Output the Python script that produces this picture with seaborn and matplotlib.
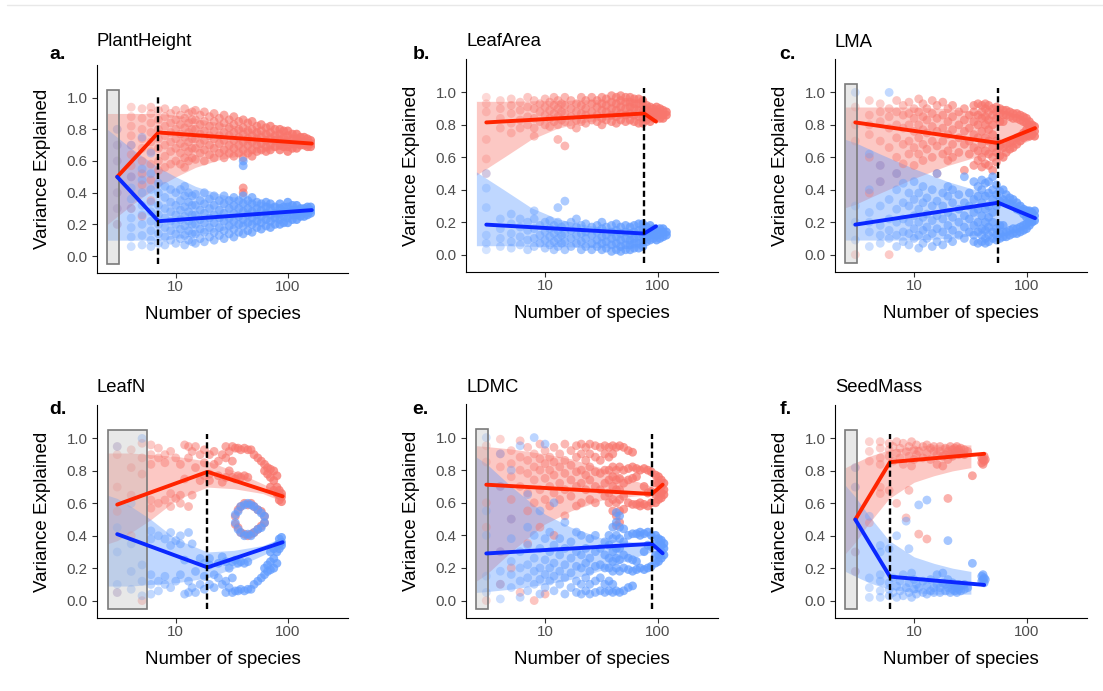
import numpy as np
import pandas as pd
import matplotlib
matplotlib.use("Agg")
import matplotlib.pyplot as plt
import seaborn as sns
from matplotlib.patches import Rectangle
from matplotlib.lines import Line2D
from matplotlib.ticker import NullLocator, FixedLocator, FixedFormatter

sns.set_theme(style="ticks")
plt.rcParams['font.family'] = ['Liberation Sans', 'DejaVu Sans']
plt.rcParams['text.color'] = 'black'
plt.rcParams['axes.labelcolor'] = 'black'

# ---------------- data ----------------
TRAITS = ["PlantHeight", "LeafArea", "LMA", "LeafN", "LDMC", "SeedMass"]
LETTERS = ["a.", "b.", "c.", "d.", "e.", "f."]
BREAKS = [7, 76, 56, 19.2, 89, 6.1]
RECTS = [(2.45, 3.1), None, (2.45, 3.1), (2.5, 5.5), (2.45, 3.1), (2.45, 3.1)]
Y_TICKS = [0.0, 0.2, 0.4, 0.6, 0.8, 1.0]
Y_TICK_LABELS = ["0.0", "0.2", "0.4", "0.6", "0.8", "1.0"]
X_TICKS = [10, 100]
X_TICK_LABELS = ["10", "100"]

# segmented fitted lines
a_line_x = [3, 7, 164];   a_line_red = [0.5, 0.78, 0.71];   a_line_blue = [0.5, 0.22, 0.29]
b_line_x = [3, 76, 97];   b_line_red = [0.815, 0.87, 0.82]; b_line_blue = [0.185, 0.13, 0.175]
c_line_x = [3, 56, 119];  c_line_red = [0.815, 0.688, 0.78]; c_line_blue = [0.185, 0.32, 0.225]
d_line_x = [3, 19.2, 90]; d_line_red = [0.592, 0.794, 0.643]; d_line_blue = [0.41, 0.205, 0.36]
e_line_x = [3, 89, 111];  e_line_red = [0.711, 0.654, 0.711]; e_line_blue = [0.289, 0.348, 0.29]
f_line_x = [3, 6.1, 42];  f_line_red = [0.5, 0.854, 0.905]; f_line_blue = [0.5, 0.148, 0.097]

# ribbons
a_rib_x = [2.45, 3, 4, 5, 7, 10, 15, 25, 50, 100, 164]
a_rib_red_lo = [0.2, 0.25, 0.32, 0.37, 0.44, 0.5, 0.56, 0.61, 0.65, 0.68, 0.69]
a_rib_red_hi = [0.9, 0.9, 0.9, 0.9, 0.9, 0.89, 0.87, 0.84, 0.8, 0.76, 0.74]
a_rib_blue_lo = [0.1, 0.1, 0.1, 0.1, 0.1, 0.11, 0.13, 0.16, 0.2, 0.24, 0.26]
a_rib_blue_hi = [0.8, 0.75, 0.68, 0.63, 0.56, 0.5, 0.44, 0.39, 0.35, 0.32, 0.31]

b_rib_x = [2.45, 3, 4.3, 7.5, 13, 24, 47, 76]
b_rib_red_lo = [0.49, 0.53, 0.6, 0.71, 0.78, 0.82, 0.84, 0.85]
b_rib_red_hi = [0.945, 0.945, 0.945, 0.948, 0.95, 0.955, 0.96, 0.96]
b_rib_blue_lo = [0.055, 0.055, 0.055, 0.052, 0.05, 0.045, 0.04, 0.04]
b_rib_blue_hi = [0.51, 0.47, 0.4, 0.29, 0.22, 0.18, 0.16, 0.15]

c_rib_x = [2.45, 3, 5, 10, 20, 35, 56, 119]
c_rib_red_lo = [0.29, 0.31, 0.38, 0.47, 0.55, 0.6, 0.62, 0.72]
c_rib_red_hi = [0.91, 0.91, 0.91, 0.91, 0.9, 0.88, 0.84, 0.8]
c_rib_blue_lo = [0.09, 0.09, 0.09, 0.09, 0.1, 0.12, 0.16, 0.2]
c_rib_blue_hi = [0.71, 0.69, 0.62, 0.53, 0.45, 0.4, 0.38, 0.28]

d_rib_x = [2.45, 3, 4, 6, 10, 19.2, 33, 60, 90]
d_rib_red_lo = [0.35, 0.37, 0.42, 0.5, 0.62, 0.7, 0.69, 0.66, 0.61]
d_rib_red_hi = [0.91, 0.91, 0.91, 0.9, 0.89, 0.86, 0.8, 0.72, 0.66]
d_rib_blue_lo = [0.09, 0.09, 0.09, 0.1, 0.11, 0.14, 0.2, 0.28, 0.34]
d_rib_blue_hi = [0.65, 0.63, 0.58, 0.5, 0.38, 0.3, 0.31, 0.34, 0.39]

e_rib_x = [2.45, 3, 5, 10, 17, 33, 60, 89]
e_rib_red_lo = [0.12, 0.16, 0.3, 0.47, 0.55, 0.62, 0.64, 0.65]
e_rib_red_hi = [0.95, 0.945, 0.93, 0.9, 0.87, 0.81, 0.74, 0.7]
e_rib_blue_lo = [0.05, 0.055, 0.07, 0.1, 0.13, 0.19, 0.26, 0.3]
e_rib_blue_hi = [0.88, 0.84, 0.7, 0.53, 0.45, 0.38, 0.36, 0.35]

f_rib_x = [2.45, 3, 4, 6, 10, 15, 22, 32]
f_rib_red_lo = [0.29, 0.36, 0.48, 0.63, 0.73, 0.77, 0.8, 0.82]
f_rib_red_hi = [0.82, 0.85, 0.89, 0.93, 0.95, 0.96, 0.96, 0.96]
f_rib_blue_lo = [0.18, 0.15, 0.11, 0.07, 0.05, 0.04, 0.04, 0.04]
f_rib_blue_hi = [0.71, 0.64, 0.52, 0.37, 0.27, 0.23, 0.2, 0.18]

# scatter points: {number of species: [variance explained, ...]}
a_red = {
    3: [0.8, 0.7, 0.6, 0.4, 0.3, 0.2],
    4: [0.94, 0.88, 0.82, 0.76, 0.7, 0.64, 0.57, 0.5, 0.3],
    5: [0.93, 0.87, 0.8, 0.74, 0.68, 0.6, 0.52, 0.45, 0.25],
    6: [0.94, 0.9, 0.84, 0.78, 0.72, 0.66, 0.58, 0.48, 0.35],
    7: [0.92, 0.86, 0.8, 0.74, 0.68, 0.6, 0.54],
    8: [0.93, 0.88, 0.82, 0.76, 0.7, 0.63, 0.56],
    9: [0.9, 0.84, 0.78, 0.72, 0.66, 0.58],
    10: [0.92, 0.86, 0.8, 0.74, 0.68, 0.6],
    11: [0.89, 0.83, 0.77, 0.71, 0.65, 0.58],
    12: [0.93, 0.87, 0.81, 0.75, 0.69, 0.62, 0.56],
    13: [0.9, 0.84, 0.78, 0.72, 0.66, 0.6],
    14: [0.91, 0.86, 0.8, 0.74, 0.68, 0.62],
    15: [0.92, 0.86, 0.8, 0.74, 0.68, 0.61],
    16.5: [0.89, 0.83, 0.77, 0.71, 0.65],
    18: [0.91, 0.85, 0.79, 0.73, 0.67, 0.6],
    20: [0.88, 0.82, 0.76, 0.7, 0.64],
    22: [0.9, 0.85, 0.79, 0.74, 0.68, 0.62],
    24.5: [0.87, 0.82, 0.76, 0.71, 0.65],
    27: [0.89, 0.84, 0.78, 0.73, 0.67, 0.62],
    30: [0.86, 0.81, 0.76, 0.7, 0.65],
    33: [0.88, 0.83, 0.78, 0.73, 0.68, 0.63],
    36.5: [0.85, 0.8, 0.75, 0.7, 0.65],
    40: [0.86, 0.81, 0.77, 0.72, 0.67, 0.62, 0.43, 0.4],
    44: [0.84, 0.79, 0.74, 0.7, 0.65],
    48: [0.85, 0.8, 0.76, 0.72, 0.67, 0.63],
    53: [0.82, 0.78, 0.74, 0.7, 0.66],
    58: [0.83, 0.79, 0.75, 0.71, 0.67],
    64: [0.81, 0.77, 0.73, 0.69, 0.66],
    70: [0.82, 0.78, 0.74, 0.7, 0.67],
    77: [0.8, 0.76, 0.73, 0.69],
    85: [0.8, 0.77, 0.73, 0.7, 0.67],
    92: [0.79, 0.75, 0.72, 0.69],
    100: [0.79, 0.76, 0.72, 0.69, 0.66],
    110: [0.77, 0.74, 0.71, 0.68],
    120: [0.77, 0.74, 0.71, 0.68],
    130: [0.75, 0.72, 0.7],
    140: [0.75, 0.72, 0.7],
    150: [0.74, 0.71, 0.69],
    160: [0.73, 0.71, 0.69],
}
a_blue = {
    3: [0.2, 0.3, 0.4, 0.6, 0.7, 0.8],
    4: [0.06, 0.12, 0.18, 0.24, 0.3, 0.36, 0.43, 0.5, 0.7],
    5: [0.07, 0.13, 0.2, 0.26, 0.32, 0.4, 0.48, 0.55, 0.75],
    6: [0.06, 0.1, 0.16, 0.22, 0.28, 0.34, 0.42, 0.52, 0.65],
    7: [0.08, 0.14, 0.2, 0.26, 0.32, 0.4, 0.46],
    8: [0.07, 0.12, 0.18, 0.24, 0.3, 0.37, 0.44],
    9: [0.1, 0.16, 0.22, 0.28, 0.34, 0.42],
    10: [0.08, 0.14, 0.2, 0.26, 0.32, 0.4],
    11: [0.11, 0.17, 0.23, 0.29, 0.35, 0.42],
    12: [0.07, 0.13, 0.19, 0.25, 0.31, 0.38, 0.44],
    13: [0.1, 0.16, 0.22, 0.28, 0.34, 0.4],
    14: [0.09, 0.14, 0.2, 0.26, 0.32, 0.38],
    15: [0.08, 0.14, 0.2, 0.26, 0.32, 0.39],
    16.5: [0.11, 0.17, 0.23, 0.29, 0.35],
    18: [0.09, 0.15, 0.21, 0.27, 0.33, 0.4],
    20: [0.12, 0.18, 0.24, 0.3, 0.36],
    22: [0.1, 0.15, 0.21, 0.26, 0.32, 0.38],
    24.5: [0.13, 0.18, 0.24, 0.29, 0.35],
    27: [0.11, 0.16, 0.22, 0.27, 0.33, 0.38],
    30: [0.14, 0.19, 0.24, 0.3, 0.35],
    33: [0.12, 0.17, 0.22, 0.27, 0.32, 0.37],
    36.5: [0.15, 0.2, 0.25, 0.3, 0.35],
    40: [0.14, 0.19, 0.23, 0.28, 0.33, 0.38, 0.57, 0.6],
    44: [0.16, 0.21, 0.26, 0.3, 0.35],
    48: [0.15, 0.2, 0.24, 0.28, 0.33, 0.37],
    53: [0.18, 0.22, 0.26, 0.3, 0.34],
    58: [0.17, 0.21, 0.25, 0.29, 0.33],
    64: [0.19, 0.23, 0.27, 0.31, 0.34],
    70: [0.18, 0.22, 0.26, 0.3, 0.33],
    77: [0.2, 0.24, 0.27, 0.31],
    85: [0.2, 0.23, 0.27, 0.3, 0.33],
    92: [0.21, 0.25, 0.28, 0.31],
    100: [0.21, 0.24, 0.28, 0.31, 0.34],
    110: [0.23, 0.26, 0.29, 0.32],
    120: [0.23, 0.26, 0.29, 0.32],
    130: [0.25, 0.28, 0.3],
    140: [0.25, 0.28, 0.3],
    150: [0.26, 0.29, 0.31],
    160: [0.27, 0.29, 0.31],
}

b_red = {
    3: [0.97, 0.93, 0.88, 0.71, 0.59, 0.5],
    4: [0.95, 0.9, 0.84, 0.78],
    5: [0.96, 0.92, 0.87, 0.81, 0.75],
    6: [0.94, 0.89, 0.83, 0.78],
    7: [0.97, 0.91, 0.85, 0.8],
    8: [0.95, 0.9, 0.84, 0.78, 0.73],
    9: [0.93, 0.88, 0.82],
    10: [0.96, 0.91, 0.86, 0.8],
    11: [0.94, 0.89, 0.84, 0.79],
    12: [0.97, 0.92, 0.87, 0.82],
    13: [0.95, 0.9, 0.85, 0.8, 0.71],
    14: [0.93, 0.88, 0.83],
    15: [0.97, 0.92, 0.87, 0.82, 0.67],
    17: [0.95, 0.9, 0.85, 0.8],
    19: [0.93, 0.88, 0.83, 0.78],
    21: [0.97, 0.92, 0.87, 0.82],
    23: [0.95, 0.9, 0.86, 0.81],
    26: [0.97, 0.93, 0.88, 0.83],
    29: [0.95, 0.91, 0.86, 0.82],
    32: [0.97, 0.93, 0.89, 0.84, 0.8],
    35: [0.96, 0.92, 0.88, 0.83],
    39: [0.98, 0.94, 0.9, 0.86, 0.82],
    43: [0.97, 0.93, 0.89, 0.85, 0.81],
    47: [0.98, 0.95, 0.91, 0.87, 0.83],
    52: [0.97, 0.94, 0.9, 0.86, 0.82],
    57: [0.97, 0.94, 0.91, 0.87, 0.83],
    62: [0.96, 0.93, 0.9, 0.86, 0.82],
    68: [0.96, 0.93, 0.89, 0.85, 0.81],
    74: [0.95, 0.92, 0.88, 0.84, 0.81],
    80: [0.92, 0.89, 0.86, 0.83],
    86: [0.91, 0.88, 0.85, 0.82],
    92: [0.9, 0.87, 0.84],
    98: [0.91, 0.88, 0.85],
    105: [0.9, 0.87, 0.84],
    112: [0.89, 0.86, 0.84],
    120: [0.88, 0.86],
}
b_blue = {
    3: [0.03, 0.07, 0.12, 0.29, 0.41, 0.5],
    4: [0.05, 0.1, 0.16, 0.22],
    5: [0.04, 0.08, 0.13, 0.19, 0.25],
    6: [0.06, 0.11, 0.17, 0.22],
    7: [0.03, 0.09, 0.15, 0.2],
    8: [0.05, 0.1, 0.16, 0.22, 0.27],
    9: [0.07, 0.12, 0.18],
    10: [0.04, 0.09, 0.14, 0.2],
    11: [0.06, 0.11, 0.16, 0.21],
    12: [0.03, 0.08, 0.13, 0.18],
    13: [0.05, 0.1, 0.15, 0.2, 0.29],
    14: [0.07, 0.12, 0.17],
    15: [0.03, 0.08, 0.13, 0.18, 0.33],
    17: [0.05, 0.1, 0.15, 0.2],
    19: [0.07, 0.12, 0.17, 0.22],
    21: [0.03, 0.08, 0.13, 0.18],
    23: [0.05, 0.1, 0.14, 0.19],
    26: [0.03, 0.07, 0.12, 0.17],
    29: [0.05, 0.09, 0.14, 0.18],
    32: [0.03, 0.07, 0.11, 0.16, 0.2],
    35: [0.04, 0.08, 0.12, 0.17],
    39: [0.02, 0.06, 0.1, 0.14, 0.18],
    43: [0.03, 0.07, 0.11, 0.15, 0.19],
    47: [0.02, 0.05, 0.09, 0.13, 0.17],
    52: [0.03, 0.06, 0.1, 0.14, 0.18],
    57: [0.03, 0.06, 0.09, 0.13, 0.17],
    62: [0.04, 0.07, 0.1, 0.14, 0.18],
    68: [0.04, 0.07, 0.11, 0.15, 0.19],
    74: [0.05, 0.08, 0.12, 0.16, 0.19],
    80: [0.08, 0.11, 0.14, 0.17],
    86: [0.09, 0.12, 0.15, 0.18],
    92: [0.1, 0.13, 0.16],
    98: [0.09, 0.12, 0.15],
    105: [0.1, 0.13, 0.16],
    112: [0.11, 0.14, 0.16],
    120: [0.12, 0.14],
}

c_red = {
    3: [0.91, 0.8, 0.7, 0.0],
    4: [0.95, 0.86, 0.8, 0.74, 0.6, 0.38],
    5: [0.93, 0.88, 0.82, 0.7, 0.55, 0.45],
    6: [0.9, 0.85, 0.78, 0.66, 0.0],
    7: [0.95, 0.88, 0.8, 0.72, 0.6, 0.5],
    8: [0.92, 0.86, 0.78, 0.68, 0.56],
    9: [0.94, 0.87, 0.8, 0.7, 0.62],
    10: [0.9, 0.84, 0.76, 0.66, 0.55],
    11: [0.96, 0.88, 0.8, 0.72, 0.62],
    12: [0.93, 0.85, 0.77, 0.68, 0.58],
    13: [0.9, 0.83, 0.75, 0.65],
    14.5: [0.95, 0.87, 0.79, 0.7, 0.6],
    16: [0.92, 0.84, 0.76, 0.67, 0.5],
    18: [0.94, 0.86, 0.78, 0.7, 0.62],
    20: [0.9, 0.82, 0.74, 0.64, 0.58],
    22: [0.92, 0.85, 0.77, 0.68, 0.6],
    25: [0.88, 0.8, 0.72, 0.63],
    28: [0.9, 0.83, 0.76, 0.68, 0.52],
    31: [0.86, 0.78, 0.7, 0.62],
    34: [0.92, 0.88, 0.82, 0.74, 0.66, 0.55],
    37: [0.93, 0.86, 0.8, 0.72, 0.64, 0.58],
    40: [0.92, 0.88, 0.84, 0.76, 0.68, 0.6, 0.54],
    43: [0.93, 0.9, 0.85, 0.8, 0.72, 0.64, 0.56],
    46: [0.92, 0.88, 0.83, 0.77, 0.7, 0.62, 0.55],
    50: [0.9, 0.86, 0.8, 0.74, 0.66, 0.6, 0.52],
    54: [0.91, 0.88, 0.84, 0.7, 0.63, 0.57],
    58: [0.9, 0.87, 0.82, 0.67, 0.61],
    62: [0.89, 0.86, 0.82, 0.66, 0.6],
    66: [0.89, 0.86, 0.68, 0.63],
    71: [0.88, 0.85, 0.69, 0.65],
    76: [0.87, 0.84, 0.7, 0.66],
    82: [0.87, 0.84, 0.72, 0.68],
    88: [0.86, 0.83, 0.73, 0.7],
    94: [0.85, 0.82, 0.75, 0.72],
    100: [0.84, 0.81, 0.77, 0.73],
    106: [0.82, 0.79, 0.76, 0.73],
    112: [0.8, 0.77, 0.74],
    118: [0.79, 0.76, 0.73],
}
c_blue = {
    3: [0.09, 0.2, 0.3, 1.0],
    4: [0.05, 0.14, 0.2, 0.26, 0.4, 0.62],
    5: [0.07, 0.12, 0.18, 0.3, 0.45, 0.55],
    6: [0.1, 0.15, 0.22, 0.34, 1.0],
    7: [0.05, 0.12, 0.2, 0.28, 0.4, 0.5],
    8: [0.08, 0.14, 0.22, 0.32, 0.44],
    9: [0.06, 0.13, 0.2, 0.3, 0.38],
    10: [0.1, 0.16, 0.24, 0.34, 0.45],
    11: [0.04, 0.12, 0.2, 0.28, 0.38],
    12: [0.07, 0.15, 0.23, 0.32, 0.42],
    13: [0.1, 0.17, 0.25, 0.35],
    14.5: [0.05, 0.13, 0.21, 0.3, 0.4],
    16: [0.08, 0.16, 0.24, 0.33, 0.5],
    18: [0.06, 0.14, 0.22, 0.3, 0.38],
    20: [0.1, 0.18, 0.26, 0.36, 0.42],
    22: [0.08, 0.15, 0.23, 0.32, 0.4],
    25: [0.12, 0.2, 0.28, 0.37],
    28: [0.1, 0.17, 0.24, 0.32, 0.48],
    31: [0.14, 0.22, 0.3, 0.38],
    34: [0.08, 0.12, 0.18, 0.26, 0.34, 0.45],
    37: [0.07, 0.14, 0.2, 0.28, 0.36, 0.42],
    40: [0.08, 0.12, 0.16, 0.24, 0.32, 0.4, 0.46],
    43: [0.07, 0.1, 0.15, 0.2, 0.28, 0.36, 0.44],
    46: [0.08, 0.12, 0.17, 0.23, 0.3, 0.38, 0.45],
    50: [0.1, 0.14, 0.2, 0.26, 0.34, 0.4, 0.48],
    54: [0.09, 0.12, 0.16, 0.3, 0.37, 0.43],
    58: [0.1, 0.13, 0.18, 0.33, 0.39],
    62: [0.11, 0.14, 0.18, 0.34, 0.4],
    66: [0.11, 0.14, 0.32, 0.37],
    71: [0.12, 0.15, 0.31, 0.35],
    76: [0.13, 0.16, 0.3, 0.34],
    82: [0.13, 0.16, 0.28, 0.32],
    88: [0.14, 0.17, 0.27, 0.3],
    94: [0.15, 0.18, 0.25, 0.28],
    100: [0.16, 0.19, 0.23, 0.27],
    106: [0.18, 0.21, 0.24, 0.27],
    112: [0.2, 0.23, 0.26],
    118: [0.21, 0.24, 0.27],
}

d_red = {
    3: [0.95, 0.9, 0.7, 0.55, 0.05],
    4: [0.93, 0.82, 0.65, 0.4],
    5: [0.97, 0.88, 0.78, 0.0],
    6: [0.96, 0.9, 0.84, 0.62, 0.57],
    7: [0.94, 0.88, 0.6],
    8: [0.9, 0.85, 0.62],
    9: [0.92, 0.66, 0.58],
    10: [0.88, 0.63],
    11: [0.84, 0.65, 0.6],
    12: [0.96, 0.75],
    13: [0.95, 0.88, 0.58],
    14: [0.92, 0.65],
    15: [0.95, 0.82],
    16.5: [0.9, 0.74],
    18: [0.93, 0.85, 0.77],
    20: [0.9, 0.78, 0.74],
    22: [0.92, 0.84],
    24: [0.86, 0.77],
    26: [0.9, 0.73],
    28: [0.95, 0.88, 0.76],
    30: [0.92, 0.8],
    32: [0.95, 0.86, 0.76],
    34: [0.94, 0.75, 0.52, 0.47],
    36: [0.94, 0.77, 0.56, 0.45],
    38: [0.93, 0.76, 0.58, 0.42],
    41: [0.94, 0.77, 0.6, 0.41],
    44: [0.93, 0.76, 0.59, 0.4],
    47: [0.93, 0.6, 0.41],
    50: [0.9, 0.58, 0.42],
    54: [0.88, 0.56, 0.44],
    58: [0.86, 0.55, 0.46],
    62: [0.84, 0.8, 0.52, 0.48],
    66: [0.82, 0.78],
    70: [0.81, 0.76, 0.7],
    75: [0.8, 0.74, 0.68],
    80: [0.77, 0.7, 0.66],
    84: [0.68, 0.65, 0.62],
    88: [0.66, 0.64, 0.61],
}
d_blue = {
    3: [0.05, 0.1, 0.3, 0.45, 0.95],
    4: [0.07, 0.18, 0.35, 0.6],
    5: [0.03, 0.12, 0.22, 1.0],
    6: [0.04, 0.1, 0.16, 0.38, 0.43],
    7: [0.06, 0.12, 0.4],
    8: [0.1, 0.15, 0.38],
    9: [0.08, 0.34, 0.42],
    10: [0.12, 0.37],
    11: [0.16, 0.35, 0.4],
    12: [0.04, 0.25],
    13: [0.05, 0.12, 0.42],
    14: [0.08, 0.35],
    15: [0.05, 0.18],
    16.5: [0.1, 0.26],
    18: [0.07, 0.15, 0.23],
    20: [0.1, 0.22, 0.26],
    22: [0.08, 0.16],
    24: [0.14, 0.23],
    26: [0.1, 0.27],
    28: [0.05, 0.12, 0.24],
    30: [0.08, 0.2],
    32: [0.05, 0.14, 0.24],
    34: [0.06, 0.25, 0.48, 0.53],
    36: [0.06, 0.23, 0.44, 0.55],
    38: [0.07, 0.24, 0.42, 0.58],
    41: [0.06, 0.23, 0.4, 0.59],
    44: [0.07, 0.24, 0.41, 0.6],
    47: [0.07, 0.4, 0.59],
    50: [0.1, 0.42, 0.58],
    54: [0.12, 0.44, 0.56],
    58: [0.14, 0.45, 0.54],
    62: [0.16, 0.2, 0.48, 0.52],
    66: [0.18, 0.22],
    70: [0.19, 0.24, 0.3],
    75: [0.2, 0.26, 0.32],
    80: [0.23, 0.3, 0.34],
    84: [0.32, 0.35, 0.38],
    88: [0.34, 0.36, 0.39],
}

e_red = {
    3: [0.95, 0.85, 0.6, 0.45, 0.0],
    4: [0.99, 0.9, 0.82, 0.7, 0.3, 0.1],
    5: [0.92, 0.84, 0.76, 0.62, 0.5, 0.2],
    6: [0.98, 0.88, 0.8, 0.7, 0.05],
    7: [0.94, 0.86, 0.78, 0.66, 0.55, 0.35],
    8: [0.9, 0.82, 0.74, 0.6, 0.0],
    9: [0.96, 0.87, 0.8, 0.68, 0.45],
    10: [0.92, 0.84, 0.75, 0.62, 0.04],
    11: [0.88, 0.8, 0.7, 0.58],
    12: [0.94, 0.85, 0.77, 0.66, 0.4],
    13.5: [0.9, 0.82, 0.72, 0.62],
    15: [0.96, 0.86, 0.78, 0.68, 0.52],
    17: [0.92, 0.83, 0.74, 0.64],
    19: [0.95, 0.88, 0.79, 0.7, 0.58],
    21: [0.96, 0.9, 0.8, 0.72, 0.6],
    23: [0.94, 0.86, 0.77, 0.68],
    25: [0.96, 0.9, 0.82, 0.74, 0.62],
    28: [0.95, 0.88, 0.79, 0.7, 0.6],
    31: [0.94, 0.86, 0.78, 0.68],
    34: [0.95, 0.9, 0.8, 0.72, 0.64],
    37: [0.94, 0.88, 0.8, 0.74, 0.66, 0.6],
    40: [0.95, 0.9, 0.82, 0.76, 0.7, 0.62, 0.55],
    43: [0.94, 0.8, 0.74, 0.68, 0.6, 0.52, 0.46],
    46: [0.95, 0.82, 0.75, 0.68, 0.62, 0.55, 0.48],
    50: [0.94, 0.8, 0.72, 0.64, 0.56],
    55: [0.92, 0.81, 0.74, 0.6],
    60: [0.91, 0.82, 0.75, 0.59],
    65: [0.81, 0.76, 0.59],
    70: [0.8, 0.6, 0.58],
    76: [0.81, 0.7, 0.59],
    82: [0.8, 0.66, 0.58],
    88: [0.79, 0.67, 0.6],
    96: [0.77, 0.72, 0.65, 0.6],
    102: [0.76, 0.72, 0.66, 0.62],
    108: [0.74, 0.7, 0.66, 0.63],
    114: [0.72, 0.68, 0.65],
}
e_blue = {
    3: [0.05, 0.15, 0.4, 0.55, 1.0],
    4: [0.01, 0.1, 0.18, 0.3, 0.7, 0.9],
    5: [0.08, 0.16, 0.24, 0.38, 0.5, 0.8],
    6: [0.02, 0.12, 0.2, 0.3, 0.95],
    7: [0.06, 0.14, 0.22, 0.34, 0.45, 0.65],
    8: [0.1, 0.18, 0.26, 0.4, 1.0],
    9: [0.04, 0.13, 0.2, 0.32, 0.55],
    10: [0.08, 0.16, 0.25, 0.38, 0.96],
    11: [0.12, 0.2, 0.3, 0.42],
    12: [0.06, 0.15, 0.23, 0.34, 0.6],
    13.5: [0.1, 0.18, 0.28, 0.38],
    15: [0.04, 0.14, 0.22, 0.32, 0.48],
    17: [0.08, 0.17, 0.26, 0.36],
    19: [0.05, 0.12, 0.21, 0.3, 0.42],
    21: [0.04, 0.1, 0.2, 0.28, 0.4],
    23: [0.06, 0.14, 0.23, 0.32],
    25: [0.04, 0.1, 0.18, 0.26, 0.38],
    28: [0.05, 0.12, 0.21, 0.3, 0.4],
    31: [0.06, 0.14, 0.22, 0.32],
    34: [0.05, 0.1, 0.2, 0.28, 0.36],
    37: [0.06, 0.12, 0.2, 0.26, 0.34, 0.4],
    40: [0.05, 0.1, 0.18, 0.24, 0.3, 0.38, 0.45],
    43: [0.06, 0.2, 0.26, 0.32, 0.4, 0.48, 0.54],
    46: [0.05, 0.18, 0.25, 0.32, 0.38, 0.45, 0.52],
    50: [0.06, 0.2, 0.28, 0.36, 0.44],
    55: [0.08, 0.19, 0.26, 0.4],
    60: [0.09, 0.18, 0.25, 0.41],
    65: [0.19, 0.24, 0.41],
    70: [0.2, 0.4, 0.42],
    76: [0.19, 0.3, 0.41],
    82: [0.2, 0.34, 0.42],
    88: [0.21, 0.33, 0.4],
    96: [0.23, 0.28, 0.35, 0.4],
    102: [0.24, 0.28, 0.34, 0.38],
    108: [0.26, 0.3, 0.34, 0.37],
    114: [0.28, 0.32, 0.35],
}

f_red = {
    3: [0.82, 0.7, 0.3, 0.18],
    4: [0.98, 0.92, 0.86, 0.48],
    5: [0.98, 0.94, 0.88, 0.84, 0.7, 0.66],
    6: [0.97, 0.93, 0.89, 0.68],
    6.5: [0.95, 0.86],
    7: [0.98, 0.91, 0.6],
    7.5: [0.94, 0.88],
    8: [0.97, 0.84],
    8.5: [0.92, 0.51],
    9: [0.95, 0.89, 0.68],
    9.5: [0.98, 0.83],
    10: [0.93, 0.87],
    10.5: [0.96, 0.9],
    11: [0.92, 0.41],
    12: [0.95, 0.88],
    13: [0.96, 0.91, 0.38],
    14: [0.94, 0.87],
    15: [0.92, 0.95],
    16: [0.9, 0.84],
    17: [0.95, 0.92],
    18: [0.89, 0.83],
    19: [0.94, 0.9],
    20: [0.92, 0.87, 0.63],
    21: [0.95, 0.9],
    22: [0.93, 0.89],
    23: [0.91, 0.94],
    24: [0.95, 0.92],
    25: [0.93, 0.9],
    26: [0.94, 0.91],
    28: [0.93, 0.9],
    30: [0.92],
    33: [0.77],
    40: [0.85, 0.88],
    41: [0.87, 0.84],
    42: [0.89, 0.86],
    43: [0.87],
}
f_blue = {
    3: [0.18, 0.3, 0.7, 0.82],
    4: [0.02, 0.08, 0.14, 0.52],
    5: [0.02, 0.06, 0.12, 0.16, 0.3, 0.34],
    6: [0.03, 0.07, 0.11, 0.32],
    6.5: [0.05, 0.14],
    7: [0.02, 0.09, 0.4],
    7.5: [0.06, 0.12],
    8: [0.03, 0.16],
    8.5: [0.08, 0.49],
    9: [0.05, 0.11, 0.32],
    9.5: [0.02, 0.17],
    10: [0.07, 0.13],
    10.5: [0.04, 0.1],
    11: [0.08, 0.59],
    12: [0.05, 0.12],
    13: [0.04, 0.09, 0.62],
    14: [0.06, 0.13],
    15: [0.08, 0.05],
    16: [0.1, 0.16],
    17: [0.05, 0.08],
    18: [0.11, 0.17],
    19: [0.06, 0.1],
    20: [0.08, 0.13, 0.37],
    21: [0.05, 0.1],
    22: [0.07, 0.11],
    23: [0.09, 0.06],
    24: [0.05, 0.08],
    25: [0.07, 0.1],
    26: [0.06, 0.09],
    28: [0.07, 0.1],
    30: [0.08],
    33: [0.23],
    40: [0.15, 0.12],
    41: [0.13, 0.16],
    42: [0.11, 0.14],
    43: [0.13],
}

POINTS = [(a_red, a_blue), (b_red, b_blue), (c_red, c_blue),
          (d_red, d_blue), (e_red, e_blue), (f_red, f_blue)]
LINES = [(a_line_x, a_line_red, a_line_blue), (b_line_x, b_line_red, b_line_blue),
         (c_line_x, c_line_red, c_line_blue), (d_line_x, d_line_red, d_line_blue),
         (e_line_x, e_line_red, e_line_blue), (f_line_x, f_line_red, f_line_blue)]
RIBBONS = [(a_rib_x, a_rib_red_lo, a_rib_red_hi, a_rib_blue_lo, a_rib_blue_hi),
           (b_rib_x, b_rib_red_lo, b_rib_red_hi, b_rib_blue_lo, b_rib_blue_hi),
           (c_rib_x, c_rib_red_lo, c_rib_red_hi, c_rib_blue_lo, c_rib_blue_hi),
           (d_rib_x, d_rib_red_lo, d_rib_red_hi, d_rib_blue_lo, d_rib_blue_hi),
           (e_rib_x, e_rib_red_lo, e_rib_red_hi, e_rib_blue_lo, e_rib_blue_hi),
           (f_rib_x, f_rib_red_lo, f_rib_red_hi, f_rib_blue_lo, f_rib_blue_hi)]

# ---------------- style / layout ----------------
RED_PT, BLUE_PT = "#F8766D", "#619CFF"
RED_LN, BLUE_LN = "#FF2400", "#0A28FF"
W, H = 1103, 691
# panel boxes in pixels: left, top, right, bottom
BOXES = [(97, 65, 348, 273), (466, 59, 718, 272), (835, 59, 1087, 272),
         (97, 405, 348, 618), (466, 404, 718, 618), (835, 405, 1087, 618)]
TITLE_POS = [(97, 46), (466, 46), (835, 47), (97, 392), (467, 392), (835, 392)]
LETTER_POS = [(49, 59), (413, 59), (779, 59), (49, 414), (412, 414), (780, 414)]
XLIM = (1.98, 345)
YLIM = (-0.107, 1.206)


def cols_to_df(cols):
    xs, ys = [], []
    for x, yl in cols.items():
        xs += [x] * len(yl)
        ys += list(yl)
    return pd.DataFrame({"x": xs, "y": ys})


def alpha_for(x):
    return np.clip(0.1 + 0.36 * np.log10(np.asarray(x, float)), 0.2, 0.85)


fig = plt.figure(figsize=(W / 100, H / 100), dpi=100)
fig.patch.set_facecolor("white")

for i in range(6):
    l, t, r, b = BOXES[i]
    ax = fig.add_axes([l / W, 1 - b / H, (r - l) / W, (b - t) / H])
    ax.set_facecolor("white")

    rx, rlo, rhi, blo, bhi = RIBBONS[i]
    ax.fill_between(rx, rlo, rhi, color=RED_PT, alpha=0.4, linewidth=0, zorder=1)
    ax.fill_between(rx, blo, bhi, color=BLUE_PT, alpha=0.4, linewidth=0, zorder=1.1)

    red_cols, blue_cols = POINTS[i]
    for cols, colr in [(red_cols, RED_PT), (blue_cols, BLUE_PT)]:
        d = cols_to_df(cols)
        sns.scatterplot(data=d, x="x", y="y", ax=ax, color=colr, s=40,
                        linewidth=0, alpha=alpha_for(d["x"]), legend=False, zorder=2)

    if RECTS[i] is not None:
        x0, x1 = RECTS[i]
        ax.add_patch(Rectangle((x0, -0.05), x1 - x0, 1.1, facecolor="#bebebe",
                               alpha=0.35, edgecolor="none", zorder=3))
        ax.add_patch(Rectangle((x0, -0.05), x1 - x0, 1.1, facecolor="none",
                               edgecolor="#7a7a7a", linewidth=1.2, zorder=3.1))

    lx, lr, lb = LINES[i]
    line_df = pd.DataFrame({"x": lx * 2, "y": lr + lb,
                            "comp": ["red"] * len(lx) + ["blue"] * len(lx)})
    sns.lineplot(data=line_df[line_df.comp == "red"], x="x", y="y", ax=ax,
                 color=RED_LN, linewidth=2.8, sort=False, estimator=None,
                 legend=False, zorder=4)
    sns.lineplot(data=line_df[line_df.comp == "blue"], x="x", y="y", ax=ax,
                 color=BLUE_LN, linewidth=2.8, sort=False, estimator=None,
                 legend=False, zorder=4)

    ax.vlines(BREAKS[i], -0.05, 1.025, colors="black", linewidth=1.7,
              linestyles=(0, (2.6, 1.4)), zorder=5)

    ax.set_xscale("log")
    ax.set_xlim(*XLIM)
    ax.set_ylim(*YLIM)
    ax.xaxis.set_major_locator(FixedLocator(X_TICKS))
    ax.xaxis.set_major_formatter(FixedFormatter(X_TICK_LABELS))
    ax.xaxis.set_minor_locator(NullLocator())
    ax.yaxis.set_major_locator(FixedLocator(Y_TICKS))
    ax.yaxis.set_major_formatter(FixedFormatter(Y_TICK_LABELS))
    ax.yaxis.set_minor_locator(NullLocator())

    for side in ["top", "right"]:
        ax.spines[side].set_visible(False)
    for side in ["left", "bottom"]:
        ax.spines[side].set_color("black")
        ax.spines[side].set_linewidth(0.8)
    ax.tick_params(axis="both", direction="out", length=3.6, width=0.8,
                   color="#333333", labelcolor="#4D4D4D", labelsize=10.8)
    ax.tick_params(axis="y", pad=3.2)
    ax.tick_params(axis="x", pad=1.6)

    ax.set_xlabel("Number of species", fontsize=13.5, color="black")
    ax.set_ylabel("Variance Explained", fontsize=13.5, color="black")
    hpx, wpx = (b - t), (r - l)
    ax.xaxis.set_label_coords(0.5, -33 / hpx)
    ax.yaxis.set_label_coords(-46 / wpx, 0.5)

    tx, ty = TITLE_POS[i]
    fig.text(tx / W, 1 - ty / H, TRAITS[i], fontsize=13.3, color="black",
             ha="left", va="baseline")
    lx_, ly_ = LETTER_POS[i]
    fig.text(lx_ / W, 1 - ly_ / H, LETTERS[i], fontsize=14, fontweight="bold",
             color="black", ha="left", va="baseline")

# faint frame line at the top of the source image
fig.add_artist(Line2D([7 / W, 1], [1 - 5 / H, 1 - 5 / H], color="#e8e8e8", lw=1.0))

fig.savefig("out.png", dpi=100, facecolor="white")
